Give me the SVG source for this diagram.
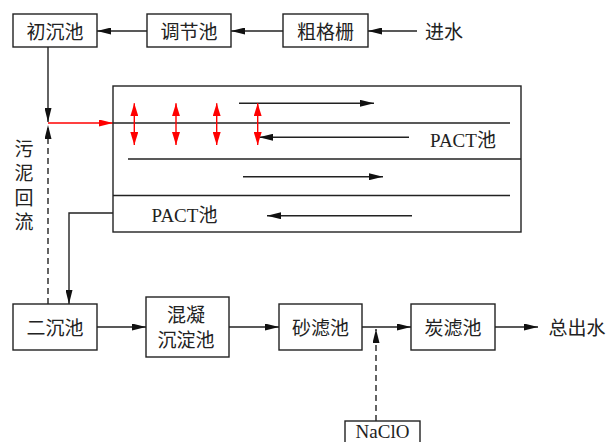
<svg xmlns="http://www.w3.org/2000/svg" width="607" height="442" viewBox="0 0 607 442">
<defs>
<style>
.box{fill:#fff;stroke:#222;stroke-width:1.4}
.ln{fill:none;stroke:#222;stroke-width:1.4}
.dash{fill:none;stroke:#222;stroke-width:1.4;stroke-dasharray:6,4}
.red{fill:none;stroke:#f00;stroke-width:1.4}
.t{font-family:"Liberation Serif","Noto Sans CJK SC",serif;font-size:19px;fill:#222;text-anchor:middle}
</style>
<marker id="ah" viewBox="0 0 14 7" refX="14" refY="3.5" markerWidth="14" markerHeight="7" markerUnits="userSpaceOnUse" orient="auto"><path d="M0,0 L14,3.5 L0,7 z" fill="#111"/></marker>
<marker id="ahr" viewBox="0 0 14 7" refX="14" refY="3.5" markerWidth="14" markerHeight="7" markerUnits="userSpaceOnUse" orient="auto"><path d="M0,0 L14,3.5 L0,7 z" fill="#f00"/></marker>
<marker id="ahr2" viewBox="0 0 13 8" refX="13" refY="4" markerWidth="13" markerHeight="8" markerUnits="userSpaceOnUse" orient="auto-start-reverse"><path d="M0,0 L13,4 L0,8 z" fill="#f00"/></marker>
</defs>

<g id="connectors">
<line class="ln" x1="417" y1="31" x2="368" y2="31" marker-end="url(#ah)"/>
<line class="ln" x1="283" y1="31" x2="231" y2="31" marker-end="url(#ah)"/>
<line class="ln" x1="147" y1="31" x2="97" y2="31" marker-end="url(#ah)"/>
<line class="ln" x1="48" y1="47" x2="48" y2="122" marker-end="url(#ah)"/>
<line class="dash" x1="48" y1="304" x2="48" y2="125" marker-end="url(#ah)"/>
<line class="red" x1="48" y1="123" x2="113" y2="123" marker-end="url(#ahr)"/>
<polyline class="ln" points="113,213 69,213 69,304" marker-end="url(#ah)"/>
<line class="ln" x1="97" y1="327" x2="146" y2="327" marker-end="url(#ah)"/>
<line class="ln" x1="229" y1="327" x2="279" y2="327" marker-end="url(#ah)"/>
<line class="ln" x1="362" y1="327" x2="411" y2="327" marker-end="url(#ah)"/>
<line class="ln" x1="495" y1="327" x2="538" y2="327" marker-end="url(#ah)"/>
<line class="dash" x1="376" y1="421" x2="376" y2="329" marker-end="url(#ah)"/>
</g>

<g id="pact">
<rect class="box" x="113" y="86" width="408" height="146"/>
<line class="ln" x1="113" y1="123" x2="510" y2="123"/>
<line class="ln" x1="128" y1="159" x2="521" y2="159"/>
<line class="ln" x1="113" y1="195.5" x2="510" y2="195.5"/>
<line class="ln" x1="239" y1="103.3" x2="374" y2="103.3" marker-end="url(#ah)"/>
<line class="ln" x1="409" y1="137.3" x2="259" y2="137.3" marker-end="url(#ah)"/>
<line class="ln" x1="243" y1="176.7" x2="383" y2="176.7" marker-end="url(#ah)"/>
<line class="ln" x1="412" y1="215.7" x2="267" y2="215.7" marker-end="url(#ah)"/>
<line class="red" x1="134.3" y1="103.3" x2="134.3" y2="145" marker-start="url(#ahr2)" marker-end="url(#ahr2)"/>
<line class="red" x1="176" y1="103.3" x2="176" y2="145" marker-start="url(#ahr2)" marker-end="url(#ahr2)"/>
<line class="red" x1="216.7" y1="103.3" x2="216.7" y2="145" marker-start="url(#ahr2)" marker-end="url(#ahr2)"/>
<line class="red" x1="257.7" y1="103.3" x2="257.7" y2="145" marker-start="url(#ahr2)" marker-end="url(#ahr2)"/>
<text class="t" x="463" y="147">PACT池</text>
<text class="t" x="184.5" y="222">PACT池</text>
</g>

<g id="n-chuchen"><rect class="box" x="13" y="14" width="84" height="33"/><text class="t" x="55" y="38.5">初沉池</text></g>
<g id="n-tiaojie"><rect class="box" x="147" y="14" width="84" height="33"/><text class="t" x="189" y="38.5">调节池</text></g>
<g id="n-cugeshan"><rect class="box" x="283" y="14" width="85" height="33"/><text class="t" x="325.5" y="38.5">粗格栅</text></g>
<g id="n-jinshui"><text class="t" x="444" y="38.5">进水</text></g>
<g id="n-wuni"><text class="t" x="24" y="155.5">污</text><text class="t" x="24" y="180">泥</text><text class="t" x="24" y="204.5">回</text><text class="t" x="24" y="228.5">流</text></g>
<g id="n-erchen"><rect class="box" x="13" y="304" width="84" height="46"/><text class="t" x="55" y="334.5">二沉池</text></g>
<g id="n-hunning"><rect class="box" x="146" y="297" width="83" height="60"/><text class="t" x="186" y="321.5">混凝</text><text class="t" x="186" y="346.5">沉淀池</text></g>
<g id="n-shalv"><rect class="box" x="279" y="304" width="83" height="46"/><text class="t" x="320.5" y="334.5">砂滤池</text></g>
<g id="n-tanlv"><rect class="box" x="411" y="304" width="84" height="46"/><text class="t" x="453" y="334.5">炭滤池</text></g>
<g id="n-zongchushui"><text class="t" x="577" y="334.5">总出水</text></g>
<g id="n-naclo"><rect class="box" x="345" y="421" width="75" height="30"/><text class="t" x="382.5" y="438" font-size="19.5">NaClO</text></g>
</svg>
